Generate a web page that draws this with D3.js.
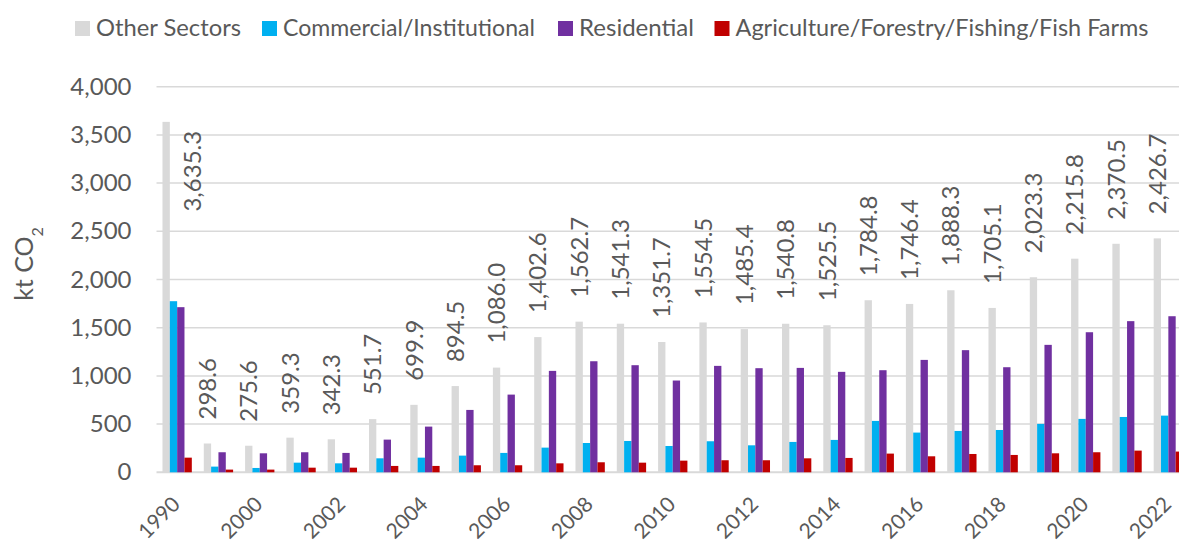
<!DOCTYPE html>
<html>
<head>
<meta charset="utf-8">
<script src="https://cdn.jsdelivr.net/npm/d3@7"></script>
<style>
  html, body { margin: 0; padding: 0; background: #fff; }
  svg { display: block; }
  text { font-family: Lato, "Open Sans", sans-serif; fill: #595959; }
</style>
</head>
<body>
<svg id="chart" width="1179" height="544"></svg>
<script>
// ---- Data ----
const years = ["1990","1999","2000","2001","2002","2003","2004","2005","2006","2007","2008","2009","2010","2011","2012","2013","2014","2015","2016","2017","2018","2019","2020","2021","2022"];
const seriesNames = ["Other Sectors","Commercial/Institutional","Residential","Agriculture/Forestry/Fishing/Fish Farms"];
const otherSectors = [3635.3,298.6,275.6,359.3,342.3,551.7,699.9,894.5,1086.0,1402.6,1562.7,1541.3,1351.7,1554.5,1485.4,1540.8,1525.5,1784.8,1746.4,1888.3,1705.1,2023.3,2215.8,2370.5,2426.7];
const commercial   = [1775,59,45,100,93,145,152,173,201,256,304,325,273,322,280,315,336,533,412,429,439,502,554,574,588];
const residential  = [1713,208,197,208,201,339,474,647,806,1052,1152,1111,952,1104,1080,1083,1042,1059,1166,1267,1090,1322,1453,1568,1619];
const agriculture  = [152,28,28,48,48,66,66,73,73,93,104,100,121,125,125,145,149,194,166,190,180,197,208,225,215];
const yTicks = [0,500,1000,1500,2000,2500,3000,3500,4000];
const xLabelYears = ["1990","2000","2002","2004","2006","2008","2010","2012","2014","2016","2018","2020","2022"];
const colors = ["#d9d9d9","#00b0f0","#7030a0","#c00000"];

const seriesValues = [otherSectors, commercial, residential, agriculture];

// ---- Layout ----
const svg = d3.select("#chart");
const W = 1179, H = 544;
const plotLeft = 156.5, plotTop = 86.7, plotBottom = 472.3;
const step = 41.3;

const x = d3.scaleBand()
  .domain(years)
  .range([plotLeft, plotLeft + step * years.length])
  .paddingInner(0.29)
  .paddingOuter(0.145);

const xs = d3.scaleBand()
  .domain(d3.range(seriesNames.length))
  .range([0, x.bandwidth()])
  .padding(0);

const y = d3.scaleLinear().domain([0, 4000]).range([plotBottom, plotTop]);

// gridlines
svg.append("g")
  .selectAll("line")
  .data(yTicks)
  .join("line")
  .attr("x1", plotLeft)
  .attr("x2", W)
  .attr("y1", d => y(d))
  .attr("y2", d => y(d))
  .attr("stroke", "#d9d9d9")
  .attr("stroke-width", d => d === 0 ? 2 : 1.5);

// y axis labels
const yAxis = d3.axisLeft(y).tickValues(yTicks).tickFormat(d3.format(",")).tickSize(0).tickPadding(0);
const gy = svg.append("g").attr("transform", `translate(131.5,0)`).call(yAxis);
gy.select(".domain").remove();
gy.selectAll("text")
  .style("font-family", "Lato, sans-serif")
  .style("font-size", "24px")
  .attr("fill", "#595959");

// bars
const groups = svg.append("g")
  .selectAll("g")
  .data(years)
  .join("g")
  .attr("transform", d => `translate(${x(d)},0)`);

groups.selectAll("rect")
  .data((d, i) => seriesValues.map((s, k) => ({ k, v: s[i] })))
  .join("rect")
  .attr("x", d => xs(d.k))
  .attr("width", xs.bandwidth())
  .attr("y", d => y(d.v))
  .attr("height", d => y(0) - y(d.v))
  .attr("fill", d => colors[d.k]);

// data labels on Other Sectors
const fmt = d3.format(",.1f");
const labelG = svg.append("g");
years.forEach((yr, i) => {
  const v = otherSectors[i];
  const bx = x(yr) + xs(0) + xs.bandwidth() / 2;
  const t = labelG.append("text")
    .text(fmt(v))
    .style("font-size", "24px")
    .attr("dy", "0.36em");
  const len = t.node().getComputedTextLength();
  let ax = bx, ay = y(v) - 24, anchor = "start";
  if (ay - len < plotTop - 60) {
    // no room above: place beside the bar, hanging from its top
    ax = x(yr) + x.bandwidth() / 2 + step * 0.37;
    ay = y(v) + 9;
    anchor = "end";
  }
  t.attr("text-anchor", anchor)
   .attr("transform", `translate(${ax},${ay}) rotate(-90)`);
});

// x labels
const xl = svg.append("g");
xl.selectAll("text")
  .data(xLabelYears)
  .join("text")
  .attr("text-anchor", "end")
  .attr("dy", "0.35em")
  .style("font-size", "21px")
  .attr("transform", d => `translate(${x(d) + x.bandwidth() / 2 - 1},${plotBottom + 28}) rotate(-45)`)
  .text(d => d);

// y-axis title
const yt = svg.append("text")
  .attr("transform", `translate(33,264) rotate(-90)`)
  .attr("text-anchor", "middle")
  .style("font-size", "25px");
yt.append("tspan").text("kt CO");
yt.append("tspan").text("2").attr("baseline-shift", "sub").style("font-size", "16px");

// legend
const legendX = [75, 262, 558, 714.5];
const legendW = [145, 252, 115, 413];
const lg = svg.append("g");
seriesNames.forEach((name, k) => {
  lg.append("rect")
    .attr("x", legendX[k]).attr("y", 21)
    .attr("width", 15).attr("height", 15)
    .attr("fill", colors[k]);
  lg.append("text")
    .attr("x", legendX[k] + 21)
    .attr("y", 36)
    .style("font-size", "24px")
    .attr("textLength", legendW[k])
    .attr("lengthAdjust", "spacingAndGlyphs")
    .text(name);
});
</script>
</body>
</html>
